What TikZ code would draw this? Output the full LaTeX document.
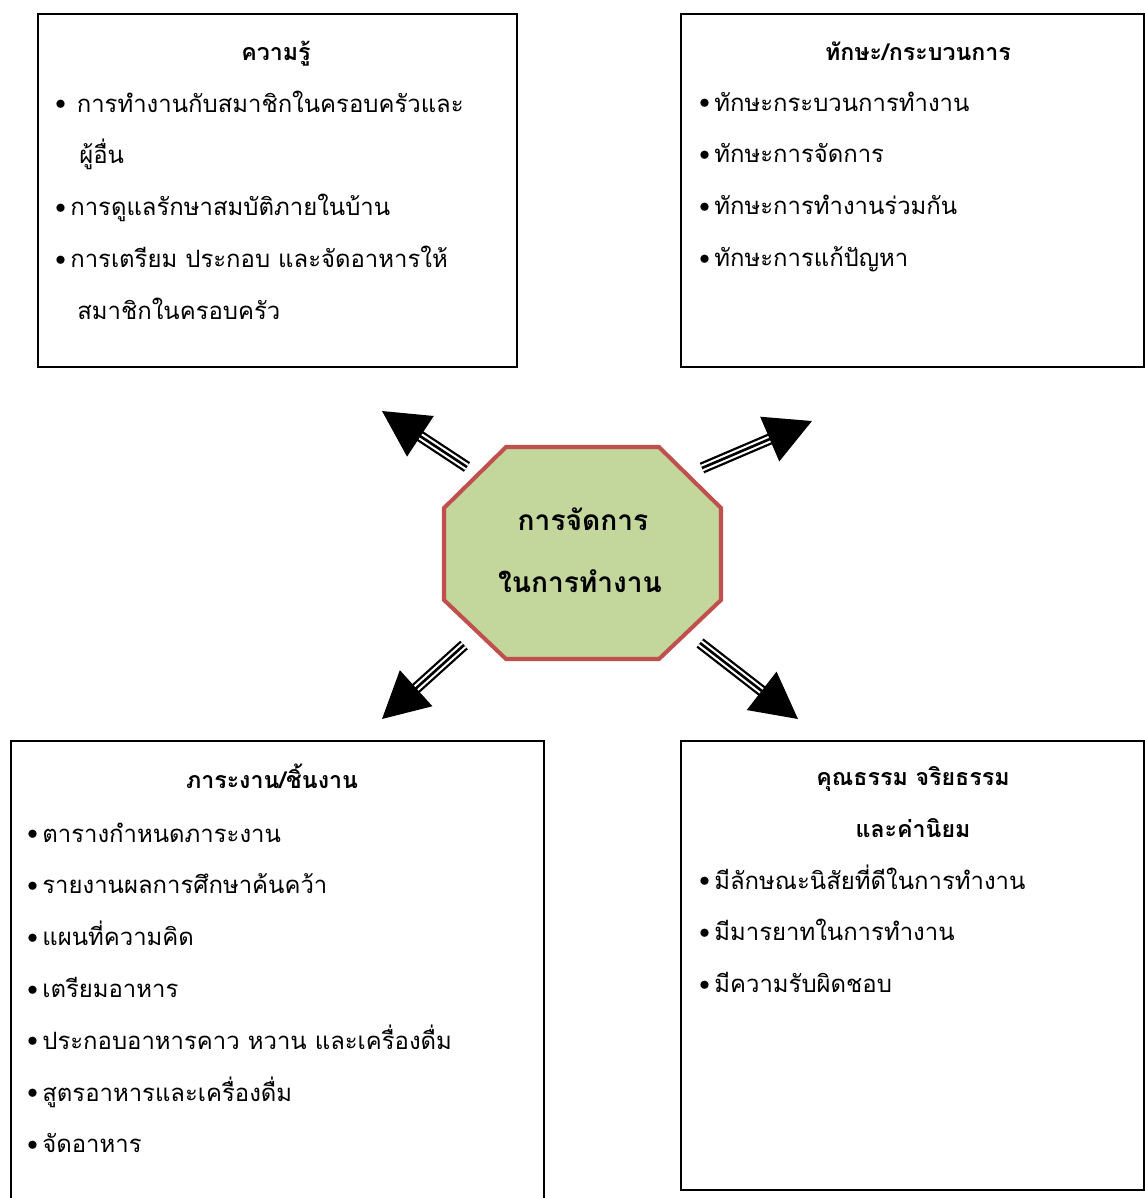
\documentclass[tikz,border=0pt]{standalone}
\usepackage{fontspec}
\setmainfont{Loma}[Script=Thai]
\usetikzlibrary{arrows.meta}
\definecolor{octfill}{HTML}{C3D69B}
\definecolor{octline}{HTML}{C0504D}
\begin{document}
\begin{tikzpicture}[x=0.02cm,y=-0.02cm,
	box/.style={draw,line width=1pt,anchor=north west,inner sep=0pt},
	item/.style={anchor=base west,inner sep=0pt,font=\fontsize{13.6pt}{16pt}\selectfont},
	head/.style={anchor=base,inner sep=0pt,font=\fontsize{13.2pt}{16pt}\selectfont\bfseries}]
		%\draw [help lines] (0,0) grid (1145,1198);
		\useasboundingbox (0,0) rectangle (1145,1198);
		\def\bul{\raisebox{1.3pt}{\fontsize{12pt}{12pt}\selectfont$\bullet$}}
		\def\dotmark{\makebox[0.3cm][l]{\bul}}
		\def\gap{51.8}
	% frames
		\node [box,minimum width=9.58cm,minimum height=7.06cm] (know) at (37,13) {};
		\node [box,minimum width=9.26cm,minimum height=7.06cm] (skill) at (680,13) {};
		\node [box,minimum width=10.66cm,minimum height=9.3cm] (task) at (10,740) {};
		\node [box,minimum width=9.26cm,minimum height=8.98cm] (moral) at (680,740) {};
	% centre
		\draw [octline,fill=octfill,line width=2.3pt,line join=miter]
			(506,447) -- (659,447) -- (721,508) -- (721,600) -- (659,659) -- (506,659) -- (444,600) -- (444,508) -- cycle;
		\node [head,font=\fontsize{16pt}{18pt}\selectfont\bfseries] (core1) at (583,530) {การจัดการ};
		\node [head,font=\fontsize{16pt}{18pt}\selectfont\bfseries] (core2) at (580,592) {ในการทำงาน};
	% knowledge
		\node [head] (knowhead) at (276,60) {ความรู้};
		\node [item] (know1) at (55,112) {\makebox[0.43cm][l]{\bul}การทำงานกับสมาชิกในครอบครัวและ};
		\node [item] (know2) at (79,112+\gap) {ผู้อื่น};
		\node [item] (know3) at (55,112+2*\gap) {\dotmark การดูแลรักษาสมบัติภายในบ้าน};
		\node [item] (know4) at (55,112+3*\gap) {\dotmark การเตรียม ประกอบ และจัดอาหารให้};
		\node [item] (know5) at (77,112+4*\gap) {สมาชิกในครอบครัว};
	% skills
		\node [head] (skillhead) at (918,60) {ทักษะ/กระบวนการ};
		\foreach \txt [count=\i] in {ทักษะกระบวนการทำงาน,ทักษะการจัดการ,ทักษะการทำงานร่วมกัน,ทักษะการแก้ปัญหา}
			\node [item] (skill\i) at (699,{111+\gap*(\i-1)}) {\dotmark\txt};
	% tasks
		\node [head] (taskhead) at (272,788) {ภาระงาน/ชิ้นงาน};
		\foreach \txt [count=\i] in {ตารางกำหนดภาระงาน,รายงานผลการศึกษาค้นคว้า,แผนที่ความคิด,เตรียมอาหาร,ประกอบอาหารคาว หวาน และเครื่องดื่ม,สูตรอาหารและเครื่องดื่ม,จัดอาหาร}
			\node [item] (task\i) at (27,{842+\gap*(\i-1)}) {\dotmark\txt};
	% morals
		\node [head] (moralhead1) at (913,785) {คุณธรรม จริยธรรม};
		\node [head] (moralhead2) at (913,837) {และค่านิยม};
		\foreach \txt [count=\i] in {มีลักษณะนิสัยที่ดีในการทำงาน,มีมารยาทในการทำงาน,มีความรับผิดชอบ}
			\node [item] (moral\i) at (699,{889+\gap*(\i-1)}) {\dotmark\txt};
	% arrows
		\coordinate (nwS) at (467,467); \coordinate (nwT) at (382,411);
		\coordinate (neS) at (702,468); \coordinate (neT) at (812,421);
		\coordinate (swS) at (464,645); \coordinate (swT) at (382,719);
		\coordinate (seS) at (700,643); \coordinate (seT) at (798,719);
		\foreach \s/\t in {nwS/nwT,neS/neT,swS/swT,seS/seT} {
			\draw [line width=6.5pt,shorten >=0.85cm] (\s) -- (\t);
			\draw [white,line width=3.9pt,shorten >=0.85cm] (\s) -- (\t);
			\draw [line width=1.5pt,-{Triangle[length=0.92cm,width=0.96cm]}] (\s) -- (\t);
		}
	\end{tikzpicture}
\end{document}
